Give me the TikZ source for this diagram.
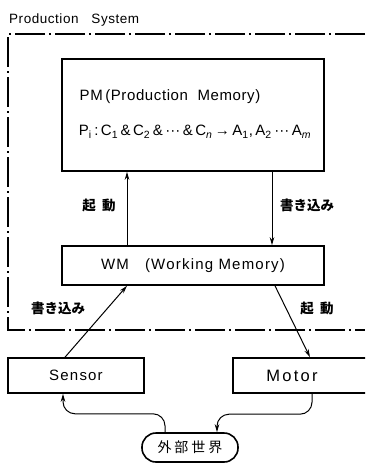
\documentclass[tikz,border=0pt]{standalone}
\usepackage{fontspec}
\setmainfont{Liberation Sans}
\newfontfamily\jpfont{Noto Sans CJK JP}
\usetikzlibrary{arrows.meta,calc}
\newcommand{\spaced}[1]{\addfontfeatures{LetterSpace=#1}}
\begin{document}
\begin{tikzpicture}[x=1pt,y=-1pt,
  box/.style={draw, line width=1.6pt, inner sep=0pt, font=\fontsize{15}{18}\selectfont},
  txt/.style={inner sep=0pt, font=\fontsize{15}{18}\selectfont},
  flow/.style={line width=1pt, -{Stealth[length=8pt,width=4.5pt]}},
  sysline/.style={line width=1.3pt, dash pattern=on 30pt off 4pt on 2pt off 4pt},
  jplabel/.style={inner sep=0pt, font=\jpfont\bfseries\fontsize{13.5}{15}\selectfont}]
\useasboundingbox (0,0) rectangle (365,463);
\clip (0,0) rectangle (365,463);

% system boundary
\node[anchor=west, inner sep=0pt, font=\fontsize{13.5}{15}\selectfont\spaced{4}] (title) at (9,20) {Production\ \ \ System};
\draw[sysline] (365,34) -- (8,34) -- (8,330) -- (365,330);

% production memory
\node[box, minimum width=262pt, minimum height=112pt] (pm) at (193,115) {};
\node[txt, font=\fontsize{15}{18}\selectfont\spaced{4}] (pmtitle) at (170,97) {PM\,(Production\ \ Memory)};
\node[txt] (rule) at (195,132) {P\textsubscript{i}\,:\,C\textsubscript{1}\,\&\,C\textsubscript{2}\,\&\,···\,\&\,C\textsubscript{\textit{n}}\,→\,A\textsubscript{1},\,A\textsubscript{2}\,···\,A\textsubscript{\textit{m}}};

% working memory
\node[box, minimum width=262pt, minimum height=39pt, font=\fontsize{15}{18}\selectfont\spaced{8}] (wm) at (193,265.5) {WM\ \ \ (Working\ Memory)};

% sensor and motor
\node[box, minimum width=136pt, minimum height=35pt, font=\fontsize{15}{18}\selectfont\spaced{8}] (sensor) at (76,375.5) {Sensor};
\node[box, minimum width=142pt, minimum height=35pt, font=\fontsize{16.5}{18}\selectfont\spaced{14}] (motor) at (304,375.5) {\hspace*{-24pt}Motor};

% outside world
\node[box, rounded corners=14pt, minimum width=96pt, minimum height=29pt, font=\jpfont\fontsize{14}{16}\selectfont] (world) at (190,447.5) {外\kern3pt 部\kern3pt 世\kern3pt 界};

% connectors
\draw[flow] ($(wm.north)+(-66,0)$) -- ($(pm.south)+(-66,0)$);
\draw[flow] ($(pm.south)+(79,0)$) -- ($(wm.north)+(79,0)$);
\draw[flow] ($(sensor.north)+(-11,0)$) -- ($(wm.south)+(-66,0)$);
\draw[flow] ($(wm.south)+(82,0)$) -- ($(motor.north)+(6,0)$);
\draw[flow, rounded corners=12pt] ($(world.north)+(-25,0)$) |- ($(sensor.south)+(-13,20)$) -- ($(sensor.south)+(-13,0)$);
\draw[flow, rounded corners=12pt] ($(motor.south)+(8,0)$) |- ($(world.north)+(27,-18)$) -- ($(world.north)+(27,0)$);

% connector labels
\node[jplabel] (up1) at (99,205) {起\ \ 動};
\node[jplabel] (down1) at (307,205) {書き込み};
\node[jplabel] (up2) at (58,308) {書き込み};
\node[jplabel] (down2) at (317,308) {起\ \ 動};
\end{tikzpicture}
\end{document}
